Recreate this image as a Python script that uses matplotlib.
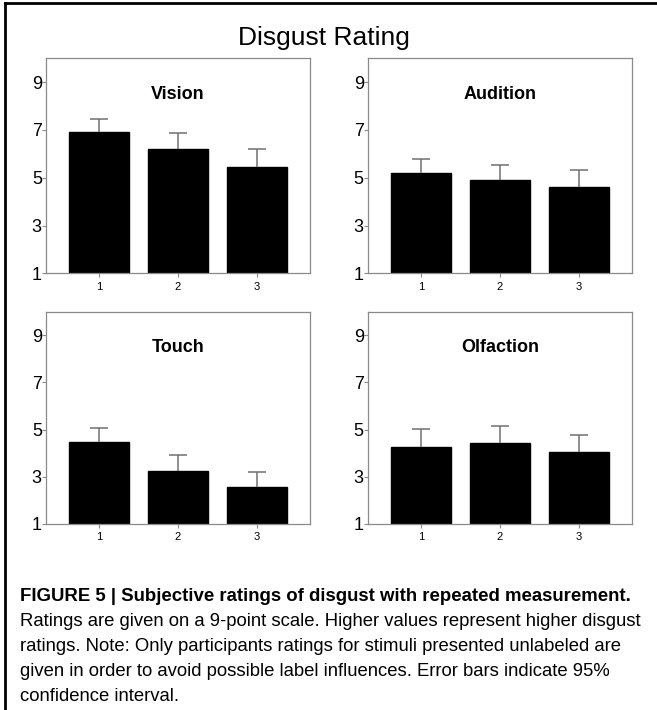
import matplotlib
matplotlib.use("Agg")
import matplotlib.pyplot as plt
from matplotlib.lines import Line2D

plt.rcParams['font.family'] = ['Liberation Sans', 'DejaVu Sans']

# Data
conditions = [1, 2, 3]
panels = ["Vision", "Audition", "Touch", "Olfaction"]
vision_mean = [6.93, 6.20, 5.45]
vision_upper = [7.46, 6.86, 6.20]
audition_mean = [5.21, 4.90, 4.60]
audition_upper = [5.80, 5.53, 5.32]
touch_mean = [4.46, 3.25, 2.57]
touch_upper = [5.07, 3.94, 3.21]
olfaction_mean = [4.28, 4.45, 4.05]
olfaction_upper = [5.01, 5.17, 4.79]
yticks = [1, 3, 5, 7, 9]

means = [vision_mean, audition_mean, touch_mean, olfaction_mean]
uppers = [vision_upper, audition_upper, touch_upper, olfaction_upper]

fig = plt.figure(figsize=(6.57, 7.10), dpi=100)

# axes boxes (left, bottom, width, height) in figure fraction
boxes = [
    (0.070, 0.615, 0.402, 0.303),
    (0.560, 0.615, 0.402, 0.303),
    (0.070, 0.262, 0.402, 0.299),
    (0.560, 0.262, 0.402, 0.299),
]

grey = "#8a8a8a"
for name, m, up, box in zip(panels, means, uppers, boxes):
    ax = fig.add_axes(box)
    err = [[0] * len(m), [u - v for u, v in zip(up, m)]]
    ax.bar(conditions, [v - 1 for v in m], bottom=1, width=0.76,
           color="black", edgecolor="black")
    _, caps, _ = ax.errorbar(conditions, m, yerr=err, fmt="none", ecolor="#707070",
                             elinewidth=1.1, capsize=6.5, capthick=1.1)
    caps[0].set_visible(False)  # only the upper cap is shown
    ax.set_xlim(0.33, 3.67)
    ax.set_ylim(1, 10)
    ax.set_yticks(yticks)
    ax.set_xticks(conditions)
    ax.tick_params(axis="y", labelsize=13, length=3, color=grey, width=0.8, pad=0)
    ax.tick_params(axis="x", labelsize=8, length=3, color=grey, width=0.8, pad=3)
    for s in ax.spines.values():
        s.set_color(grey)
        s.set_linewidth(0.9)
    ax.text(2, 8.5, name, ha="center", va="center", fontsize=13,
            fontweight="bold")

fig.text(0.493, 0.946, "Disgust Rating", ha="center", va="center", fontsize=19)

# outer frame (left and top edges)
fig.add_artist(Line2D([0.008, 0.008], [0.0, 0.996], color="black", lw=2,
                      transform=fig.transFigure))
fig.add_artist(Line2D([0.008, 1.0], [0.996, 0.996], color="black", lw=2,
                      transform=fig.transFigure))

fig.text(0.030, 0.160, "FIGURE 5 | Subjective ratings of disgust with repeated measurement.",
         ha="left", va="center", fontsize=13.4, fontweight="bold")
caption = ("Ratings are given on a 9-point scale. Higher values represent higher disgust\n"
           "ratings. Note: Only participants ratings for stimuli presented unlabeled are\n"
           "given in order to avoid possible label influences. Error bars indicate 95%\n"
           "confidence interval.")
fig.text(0.030, 0.137, caption, ha="left", va="top", fontsize=13.3,
         linespacing=1.63)

fig.savefig("out.png", dpi=100)
